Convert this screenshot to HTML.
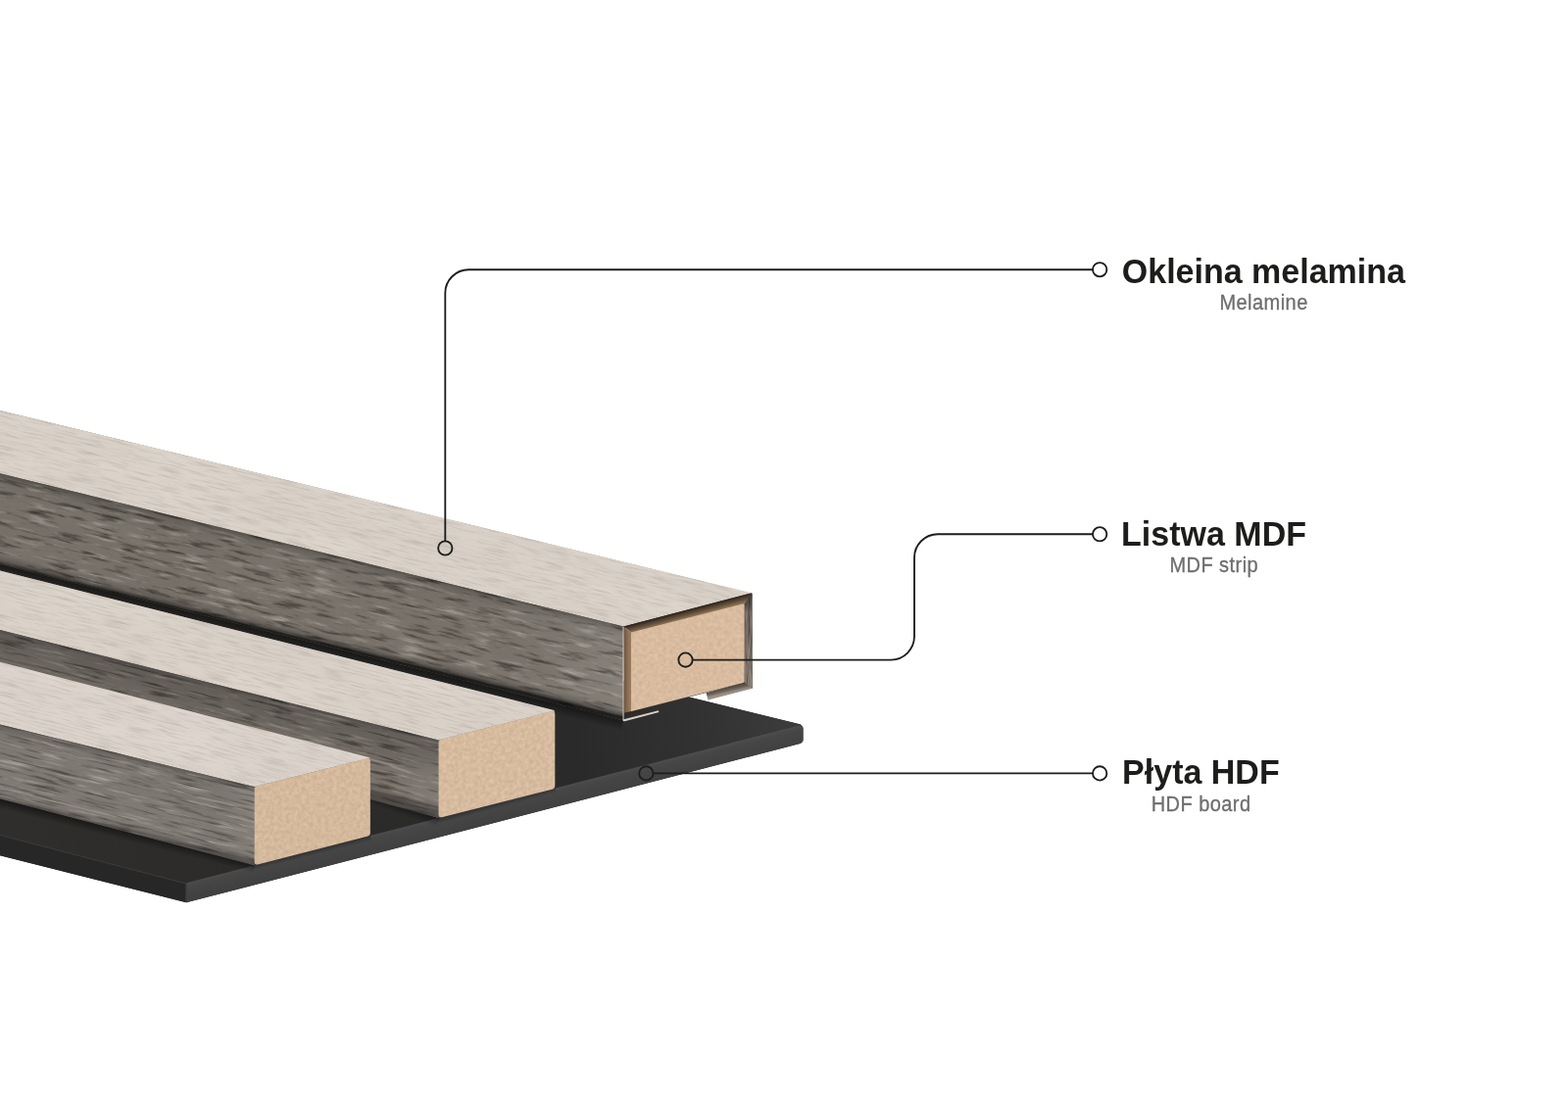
<!DOCTYPE html>
<html lang="pl"><head><meta charset="utf-8"><title>Panel lamelowy</title>
<style>
html,body{margin:0;padding:0;background:#fff}
body{width:1600px;height:1131px;overflow:hidden;position:relative;font-family:"Liberation Sans",sans-serif}
svg{position:absolute;left:0;top:0;display:block}
.lab{position:absolute;white-space:nowrap;text-align:center;color:#1d1d1b}
.lab b{display:block;font-size:34px;line-height:38px;font-weight:bold;transform:scaleY(1.045);transform-origin:0 30.78px}
.lab span{display:block;margin-top:2.3px;font-size:20px;line-height:22px;color:#6f6e6e;letter-spacing:.45px;padding-left:.45px;-webkit-text-stroke:.3px #6f6e6e;transform:scaleY(1.1);transform-origin:0 17.93px}
</style></head>
<body>
<svg width="1600" height="1131" viewBox="0 0 1600 1131">
<defs>
<filter id="ft1" x="0" y="0" width="100%" height="100%" color-interpolation-filters="sRGB"><feTurbulence type="fractalNoise" baseFrequency="0.035 0.55" numOctaves="3" seed="4" result="n"/><feColorMatrix in="n" type="matrix" values="0 0 0 0 0.698  0 0 0 0 0.659  0 0 0 0 0.620  1.5 0 0 0 -0.705" result="sd"/><feTurbulence type="fractalNoise" baseFrequency="0.008 0.05" numOctaves="2" seed="54" result="n2"/><feColorMatrix in="n2" type="matrix" values="0.04 0 0 0 0.835  0.04 0 0 0 0.804  0.04 0 0 0 0.768  0 0 0 0 1" result="bs"/><feMerge><feMergeNode in="bs"/><feMergeNode in="sd"/></feMerge><feComposite in2="SourceGraphic" operator="in"/></filter>
<filter id="ft2" x="0" y="0" width="100%" height="100%" color-interpolation-filters="sRGB"><feTurbulence type="fractalNoise" baseFrequency="0.035 0.55" numOctaves="3" seed="11" result="n"/><feColorMatrix in="n" type="matrix" values="0 0 0 0 0.698  0 0 0 0 0.659  0 0 0 0 0.620  1.5 0 0 0 -0.705" result="sd"/><feTurbulence type="fractalNoise" baseFrequency="0.008 0.05" numOctaves="2" seed="61" result="n2"/><feColorMatrix in="n2" type="matrix" values="0.04 0 0 0 0.835  0.04 0 0 0 0.804  0.04 0 0 0 0.768  0 0 0 0 1" result="bs"/><feMerge><feMergeNode in="bs"/><feMergeNode in="sd"/></feMerge><feComposite in2="SourceGraphic" operator="in"/></filter>
<filter id="ft3" x="0" y="0" width="100%" height="100%" color-interpolation-filters="sRGB"><feTurbulence type="fractalNoise" baseFrequency="0.035 0.55" numOctaves="3" seed="23" result="n"/><feColorMatrix in="n" type="matrix" values="0 0 0 0 0.706  0 0 0 0 0.667  0 0 0 0 0.627  1.5 0 0 0 -0.705" result="sd"/><feTurbulence type="fractalNoise" baseFrequency="0.008 0.05" numOctaves="2" seed="73" result="n2"/><feColorMatrix in="n2" type="matrix" values="0.04 0 0 0 0.843  0.04 0 0 0 0.811  0.04 0 0 0 0.780  0 0 0 0 1" result="bs"/><feMerge><feMergeNode in="bs"/><feMergeNode in="sd"/></feMerge><feComposite in2="SourceGraphic" operator="in"/></filter>
<filter id="fs1" x="0" y="0" width="100%" height="100%" color-interpolation-filters="sRGB"><feTurbulence type="fractalNoise" baseFrequency="0.03 0.26" numOctaves="4" seed="7" result="n"/><feColorMatrix in="n" type="matrix" values="0 0 0 0 0.259  0 0 0 0 0.239  0 0 0 0 0.216  3.6 0 0 0 -1.962" result="sd"/><feColorMatrix in="n" type="matrix" values="0 0 0 0 0.647  0 0 0 0 0.624  0 0 0 0 0.592  0 -3.0 0 0 1.335" result="sl"/><feTurbulence type="fractalNoise" baseFrequency="0.008 0.05" numOctaves="2" seed="57" result="n2"/><feColorMatrix in="n2" type="matrix" values="0.04 0 0 0 0.455  0.04 0 0 0 0.431  0.04 0 0 0 0.400  0 0 0 0 1" result="bs"/><feMerge><feMergeNode in="bs"/><feMergeNode in="sl"/><feMergeNode in="sd"/></feMerge><feComposite in2="SourceGraphic" operator="in"/></filter>
<filter id="fs2" x="0" y="0" width="100%" height="100%" color-interpolation-filters="sRGB"><feTurbulence type="fractalNoise" baseFrequency="0.025 0.34" numOctaves="4" seed="17" result="n"/><feColorMatrix in="n" type="matrix" values="0 0 0 0 0.275  0 0 0 0 0.255  0 0 0 0 0.231  3.6 0 0 0 -1.962" result="sd"/><feColorMatrix in="n" type="matrix" values="0 0 0 0 0.651  0 0 0 0 0.627  0 0 0 0 0.596  0 -3.2 0 0 1.440" result="sl"/><feTurbulence type="fractalNoise" baseFrequency="0.008 0.05" numOctaves="2" seed="67" result="n2"/><feColorMatrix in="n2" type="matrix" values="0.04 0 0 0 0.458  0.04 0 0 0 0.431  0.04 0 0 0 0.404  0 0 0 0 1" result="bs"/><feMerge><feMergeNode in="bs"/><feMergeNode in="sl"/><feMergeNode in="sd"/></feMerge><feComposite in2="SourceGraphic" operator="in"/></filter>
<filter id="fs3" x="0" y="0" width="100%" height="100%" color-interpolation-filters="sRGB"><feTurbulence type="fractalNoise" baseFrequency="0.022 0.36" numOctaves="4" seed="29" result="n"/><feColorMatrix in="n" type="matrix" values="0 0 0 0 0.298  0 0 0 0 0.278  0 0 0 0 0.255  3.6 0 0 0 -1.962" result="sd"/><feColorMatrix in="n" type="matrix" values="0 0 0 0 0.667  0 0 0 0 0.643  0 0 0 0 0.616  0 -3.2 0 0 1.440" result="sl"/><feTurbulence type="fractalNoise" baseFrequency="0.008 0.05" numOctaves="2" seed="79" result="n2"/><feColorMatrix in="n2" type="matrix" values="0.04 0 0 0 0.478  0.04 0 0 0 0.455  0.04 0 0 0 0.431  0 0 0 0 1" result="bs"/><feMerge><feMergeNode in="bs"/><feMergeNode in="sl"/><feMergeNode in="sd"/></feMerge><feComposite in2="SourceGraphic" operator="in"/></filter>
<filter id="fm" x="0" y="0" width="100%" height="100%" color-interpolation-filters="sRGB"><feTurbulence type="fractalNoise" baseFrequency="0.25 0.25" numOctaves="2" seed="5"/><feColorMatrix type="matrix" values="0.1 0 0 0 0.801  0.1 0 0 0 0.687  0.1 0 0 0 0.577  0 0 0 0 1"/><feComposite in2="SourceGraphic" operator="in"/></filter>
<filter id="fm2" x="0" y="0" width="100%" height="100%" color-interpolation-filters="sRGB"><feTurbulence type="fractalNoise" baseFrequency="0.25 0.25" numOctaves="2" seed="8"/><feColorMatrix type="matrix" values="0.12 0 0 0 0.783  0.12 0 0 0 0.673  0.12 0 0 0 0.564  0 0 0 0 1"/><feComposite in2="SourceGraphic" operator="in"/></filter>
<filter id="fm3" x="0" y="0" width="100%" height="100%" color-interpolation-filters="sRGB"><feTurbulence type="fractalNoise" baseFrequency="0.25 0.25" numOctaves="2" seed="12"/><feColorMatrix type="matrix" values="0.12 0 0 0 0.775  0.12 0 0 0 0.665  0.12 0 0 0 0.552  0 0 0 0 1"/><feComposite in2="SourceGraphic" operator="in"/></filter>
<filter id="fin" x="0" y="0" width="100%" height="100%" color-interpolation-filters="sRGB"><feTurbulence type="fractalNoise" baseFrequency="0.5 0.05" numOctaves="2" seed="5"/><feColorMatrix type="matrix" values="0.4 0 0 0 0.278  0.4 0 0 0 0.239  0.4 0 0 0 0.208  0 0 0 0 1"/><feComposite in2="SourceGraphic" operator="in"/></filter>
<linearGradient id="gB" gradientUnits="userSpaceOnUse" x1="0.0" y1="860.0" x2="820.0" y2="745.0"><stop offset="0" stop-color="#302e2c" stop-opacity="1"/><stop offset="0.3" stop-color="#2c2b2a" stop-opacity="1"/><stop offset="0.72" stop-color="#2a2a2a" stop-opacity="1"/><stop offset="0.88" stop-color="#323232" stop-opacity="1"/><stop offset="1" stop-color="#3d3d3d" stop-opacity="1"/></linearGradient>
<linearGradient id="gBf" gradientUnits="userSpaceOnUse" x1="500.0" y1="820.8" x2="504.9" y2="840.0"><stop offset="0" stop-color="#4e4e4e" stop-opacity="1"/><stop offset="0.25" stop-color="#464646" stop-opacity="1"/><stop offset="1" stop-color="#404040" stop-opacity="1"/></linearGradient>
<linearGradient id="gSh12" gradientUnits="userSpaceOnUse" x1="315.1" y1="654.0" x2="312.2" y2="665.6"><stop offset="0" stop-color="#000" stop-opacity="0.5"/><stop offset="1" stop-color="#000" stop-opacity="0"/></linearGradient>
<linearGradient id="gSh13" gradientUnits="userSpaceOnUse" x1="126.8" y1="848.5" x2="124.6" y2="857.2"><stop offset="0" stop-color="#000" stop-opacity="0.45"/><stop offset="1" stop-color="#000" stop-opacity="0"/></linearGradient>
<linearGradient id="gSh14" gradientUnits="userSpaceOnUse" x1="317.8" y1="868.4" x2="319.0" y2="873.2"><stop offset="0" stop-color="#000" stop-opacity="0.35"/><stop offset="1" stop-color="#000" stop-opacity="0"/></linearGradient>
<linearGradient id="gSh15" gradientUnits="userSpaceOnUse" x1="505.9" y1="820.2" x2="507.2" y2="825.1"><stop offset="0" stop-color="#000" stop-opacity="0.35"/><stop offset="1" stop-color="#000" stop-opacity="0"/></linearGradient>
<linearGradient id="gSh16" gradientUnits="userSpaceOnUse" x1="412.3" y1="823.2" x2="409.4" y2="831.7"><stop offset="0" stop-color="#000" stop-opacity="0.4"/><stop offset="1" stop-color="#000" stop-opacity="0"/></linearGradient>
<clipPath id="c1"><polygon points="-6.0,417.5 767.3,605.2 636.3,639.4 -6.0,481.8"/></clipPath>
<linearGradient id="gL1" gradientUnits="userSpaceOnUse" x1="0.0" y1="0.0" x2="636.3" y2="0.0"><stop offset="0" stop-color="#000" stop-opacity="0.03"/><stop offset="0.7" stop-color="#000" stop-opacity="0.0"/><stop offset="0.95" stop-color="#fff" stop-opacity="0.07"/><stop offset="1" stop-color="#fff" stop-opacity="0.1"/></linearGradient>
<linearGradient id="gT1" gradientUnits="userSpaceOnUse" x1="315.1" y1="560.6" x2="293.7" y2="648.0"><stop offset="0" stop-color="#000" stop-opacity="0.3"/><stop offset="0.04" stop-color="#000" stop-opacity="0.14"/><stop offset="0.12" stop-color="#000" stop-opacity="0.03"/><stop offset="0.3" stop-color="#000" stop-opacity="0"/><stop offset="0.88" stop-color="#000" stop-opacity="0"/><stop offset="0.95" stop-color="#000" stop-opacity="0.18"/><stop offset="0.985" stop-color="#000" stop-opacity="0.5"/><stop offset="1" stop-color="#000" stop-opacity="0.75"/></linearGradient>
<clipPath id="c2"><polygon points="-6.0,481.8 636.3,639.4 636.3,735.5 -6.0,574.5"/></clipPath>
<linearGradient id="gW" gradientUnits="userSpaceOnUse" x1="764.0" y1="606.0" x2="764.0" y2="703.0"><stop offset="0" stop-color="#000" stop-opacity="0.5"/><stop offset="0.2" stop-color="#000" stop-opacity="0.15"/><stop offset="0.6" stop-color="#000" stop-opacity="0"/><stop offset="1" stop-color="#fff" stop-opacity="0.08"/></linearGradient>
<clipPath id="c3"><polygon points="759.4,617.5 767.4,605.6 767.8,702.8 759.4,697.0"/></clipPath>
<linearGradient id="gLip" gradientUnits="userSpaceOnUse" x1="745.0" y1="700.0" x2="746.5" y2="706.5"><stop offset="0" stop-color="#453b33" stop-opacity="1"/><stop offset="0.6" stop-color="#6e635a" stop-opacity="1"/><stop offset="1" stop-color="#9a9088" stop-opacity="1"/></linearGradient>
<clipPath id="c4"><path d="M637.2 642.1 Q637.2 640.6 638.7 640.2 L758.1 609.2 Q759.6 608.8 759.6 610.3 L759.6 695.1 Q759.6 696.6 758.1 697.0 L638.7 727.4 Q637.2 727.8 637.2 726.3 Z"/></clipPath>
<linearGradient id="gBl" gradientUnits="userSpaceOnUse" x1="637.0" y1="0.0" x2="644.0" y2="0.0"><stop offset="0" stop-color="#6e563f" stop-opacity="1"/><stop offset="0.5" stop-color="#8a6d52" stop-opacity="1"/><stop offset="1" stop-color="#9c7e61" stop-opacity="1"/></linearGradient>
<linearGradient id="gBt" gradientUnits="userSpaceOnUse" x1="702.0" y1="622.5" x2="703.9" y2="629.7"><stop offset="0" stop-color="#2a211a" stop-opacity="1"/><stop offset="0.3" stop-color="#4a3b2e" stop-opacity="1"/><stop offset="0.7" stop-color="#6b563f" stop-opacity="1"/><stop offset="1" stop-color="#8a7152" stop-opacity="1"/></linearGradient>
<clipPath id="c5"><polygon points="-6.0,580.9 566.3,725.2 447.6,755.6 -6.0,641.5"/></clipPath>
<linearGradient id="gL2" gradientUnits="userSpaceOnUse" x1="0.0" y1="0.0" x2="447.6" y2="0.0"><stop offset="0" stop-color="#000" stop-opacity="0.03"/><stop offset="0.8" stop-color="#000" stop-opacity="0"/><stop offset="1" stop-color="#fff" stop-opacity="0.06"/></linearGradient>
<linearGradient id="gT2" gradientUnits="userSpaceOnUse" x1="220.8" y1="698.5" x2="204.5" y2="763.3"><stop offset="0" stop-color="#000" stop-opacity="0.36"/><stop offset="0.06" stop-color="#000" stop-opacity="0.2"/><stop offset="0.4" stop-color="#000" stop-opacity="0.1"/><stop offset="0.6" stop-color="#000" stop-opacity="0"/><stop offset="0.9" stop-color="#000" stop-opacity="0"/><stop offset="0.97" stop-color="#000" stop-opacity="0.12"/><stop offset="1" stop-color="#000" stop-opacity="0.35"/></linearGradient>
<clipPath id="c6"><polygon points="-6.0,641.5 447.6,755.6 447.6,835.0 -6.0,710.4"/></clipPath>
<clipPath id="c7"><path d="M447.6 758.8 Q447.6 755.6 450.8 754.8 L563.1 726.0 Q566.3 725.2 566.3 728.4 L566.3 801.8 Q566.3 805.0 563.1 805.8 L450.8 834.2 Q447.6 835.0 447.6 831.8 Z"/></clipPath>
<clipPath id="c8"><polygon points="-6.0,674.1 377.8,773.4 259.7,803.1 -6.0,738.0"/></clipPath>
<linearGradient id="gL3" gradientUnits="userSpaceOnUse" x1="0.0" y1="0.0" x2="259.7" y2="0.0"><stop offset="0" stop-color="#000" stop-opacity="0.0"/><stop offset="0.8" stop-color="#000" stop-opacity="0"/><stop offset="1" stop-color="#fff" stop-opacity="0.06"/></linearGradient>
<linearGradient id="gT3" gradientUnits="userSpaceOnUse" x1="126.8" y1="770.6" x2="109.4" y2="842.0"><stop offset="0" stop-color="#000" stop-opacity="0.3"/><stop offset="0.04" stop-color="#000" stop-opacity="0.14"/><stop offset="0.12" stop-color="#000" stop-opacity="0.03"/><stop offset="0.3" stop-color="#000" stop-opacity="0"/><stop offset="0.9" stop-color="#000" stop-opacity="0"/><stop offset="0.97" stop-color="#000" stop-opacity="0.12"/><stop offset="1" stop-color="#000" stop-opacity="0.35"/></linearGradient>
<clipPath id="c9"><polygon points="-6.0,738.0 259.7,803.1 259.7,883.2 -6.0,813.7"/></clipPath>
<clipPath id="c10"><path d="M259.7 806.3 Q259.7 803.1 262.9 802.3 L374.6 774.2 Q377.8 773.4 377.8 776.6 L377.8 849.8 Q377.8 853.0 374.6 853.8 L262.9 882.4 Q259.7 883.2 259.7 880.0 Z"/></clipPath>
</defs>
<path d="M-6.0 537.4 L817.0 739.5 L819.5 743 L819.5 756 L816.5 759 L190 921.3 L-6.0 871.7 Z" fill="#2a2a2a"/>
<polygon points="-6.0,537.4 817.0,739.5 819.0,742.0 816.0,741.0 190.0,901.3 -6.0,850.4" fill="url(#gB)"/>
<path d="M190 901.3 L815.5 740.6 Q819.3 739.9 819.5 743.5 L819.5 755 Q819.5 758.2 816.2 759.1 L190 921.3 Z" fill="url(#gBf)"/>
<polygon points="-6.0,850.4 190.6,901.3 190.6,921.3 -6.0,871.7" fill="#272727"/>
<path d="M-6.0 850.9 L190 901.8" stroke="#3a3a3a" stroke-width="1.2" fill="none"/>
<path d="M190 901.5999999999999 L190 920.8" stroke="#4a4a4a" stroke-width="1" fill="none"/>
<polygon points="-6.0,573.5 636.3,734.5 633.4,746.1 -8.9,585.1" fill="url(#gSh12)"/>
<polygon points="-6.0,813.7 259.7,883.2 257.4,891.9 -8.3,822.4" fill="url(#gSh13)"/>
<polygon points="257.7,883.7 377.8,853.0 379.0,857.8 258.9,888.5" fill="url(#gSh14)"/>
<polygon points="445.6,835.5 566.3,805.0 567.5,809.8 446.8,840.3" fill="url(#gSh15)"/>
<polygon points="377.0,811.4 447.6,835.0 444.7,843.5 374.1,819.9" fill="url(#gSh16)"/>
<polygon points="-6.0,417.5 766.7,605.6 636.6,639.7 636.3,733.0 -6.0,572.0" fill="#7a7269"/>
<g clip-path="url(#c1)">
<rect x="-34.0" y="409.5" width="851.7" height="84.5" transform="rotate(13.640 -6.0 417.5)" fill="#000" filter="url(#ft1)"/>
</g>
<g clip-path="url(#c2)">
<rect x="-34.0" y="473.8" width="717.3" height="120.0" transform="rotate(13.784 -6.0 481.8)" fill="#000" filter="url(#fs1)"/>
<rect x="-10.0" y="477.8" width="650.3" height="261.7" fill="url(#gL1)"/>
<rect x="-10.0" y="477.8" width="650.3" height="261.7" fill="url(#gT1)"/>
</g>
<polygon points="636.3,639.4 767.3,605.2 767.8,702.8 759.6,697.0 637.0,728.5" fill="#3a342e"/>
<g clip-path="url(#c3)">
<rect x="737.0" y="603.0" width="54.0" height="104.0" transform="rotate(0.000 759.0 605.0)" fill="#000" filter="url(#fin)"/>
<rect x="755.4" y="601.6" width="16.4" height="105.2" fill="url(#gW)"/>
</g>
<polygon points="720.5,707.3 759.6,696.5 767.8,702.8 722.5,714.6" fill="url(#gLip)"/>
<g clip-path="url(#c4)"><rect x="633.2" y="604.8" width="130.4" height="127.0" fill="#000" filter="url(#fm)"/></g>
<path d="M637 640.5 L644 645.6 L644 724.6 Q644 726.6 642 727.0 L637 728.2 Z" fill="url(#gBl)"/>
<path d="M636.6 639.6 L767 605.4 L759.6 617.2 Q759.3 616.3 757.6 616.6 L644 645.6 Z" fill="url(#gBt)"/>
<path d="M636.0 640.0 L636.0 735.0" stroke="#cdc6bf" stroke-width="1" fill="none"/>
<polygon points="637.2,727.6 644.5,726.0 671.8,725.2 637.0,734.4" fill="#2f2b28"/>
<path d="M635.6 734.4 L671.8 725.2 L672.4 727.1 L637.4 736.3 Q635.2 736.7 635.6 734.4 Z" fill="#d6d0c9"/>
<polygon points="-6.0,580.9 565.9,725.5 565.9,803.4 448.6,833.8 447.6,832.5 -6.0,707.9" fill="#8a8178"/>
<g clip-path="url(#c5)">
<rect x="-34.0" y="572.9" width="646.2" height="80.8" transform="rotate(14.153 -6.0 580.9)" fill="#000" filter="url(#ft2)"/>
</g>
<g clip-path="url(#c6)">
<rect x="-34.0" y="633.5" width="523.7" height="96.8" transform="rotate(14.121 -6.0 641.5)" fill="#000" filter="url(#fs2)"/>
<rect x="-10.0" y="637.5" width="461.6" height="201.5" fill="url(#gL2)"/>
<rect x="-10.0" y="637.5" width="461.6" height="201.5" fill="url(#gT2)"/>
</g>
<g clip-path="url(#c7)"><rect x="443.6" y="721.2" width="126.7" height="117.8" fill="#000" filter="url(#fm2)"/></g>
<polygon points="-6.0,674.1 377.4,773.7 377.4,852.3 260.7,882.0 259.7,880.7 -6.0,811.2" fill="#8a8178"/>
<g clip-path="url(#c8)">
<rect x="-34.0" y="666.1" width="452.4" height="83.8" transform="rotate(14.499 -6.0 674.1)" fill="#000" filter="url(#ft3)"/>
</g>
<g clip-path="url(#c9)">
<rect x="-34.0" y="730.0" width="329.6" height="103.5" transform="rotate(13.761 -6.0 738.0)" fill="#000" filter="url(#fs3)"/>
<rect x="-10.0" y="734.0" width="273.7" height="153.2" fill="url(#gL3)"/>
<rect x="-10.0" y="734.0" width="273.7" height="153.2" fill="url(#gT3)"/>
</g>
<g clip-path="url(#c10)"><rect x="255.7" y="769.4" width="126.1" height="117.8" fill="#000" filter="url(#fm3)"/></g>
<g fill="none" stroke="#1d1d1b" stroke-width="1.85">
<path d="M454.3 552.3 V299.2 A24 24 0 0 1 478.3 275.2 H1115"/>
<circle cx="454.3" cy="559.5" r="7.15"/><circle cx="1122.2" cy="275.2" r="7.15"/>
<path d="M706.7 673.6 H909 A24 24 0 0 0 933 649.6 V569.2 A24 24 0 0 1 957 545.2 H1115"/>
<circle cx="699.5" cy="673.6" r="7.15"/><circle cx="1122.2" cy="545.3" r="7.15"/>
<path d="M666.6 789.4 H1115"/>
<circle cx="659.4" cy="789.4" r="7.15"/><circle cx="1122.2" cy="789.4" r="7.15"/>
</g>
</svg>
<div class="lab" style="left:1144.8px;top:258.2px"><b>Okleina melamina</b><span>Melamine</span></div>
<div class="lab" style="left:1144.1px;top:526px"><b>Listwa MDF</b><span>MDF strip</span></div>
<div class="lab" style="left:1145.1px;top:769.4px"><b>Płyta HDF</b><span>HDF board</span></div>
</body></html>
